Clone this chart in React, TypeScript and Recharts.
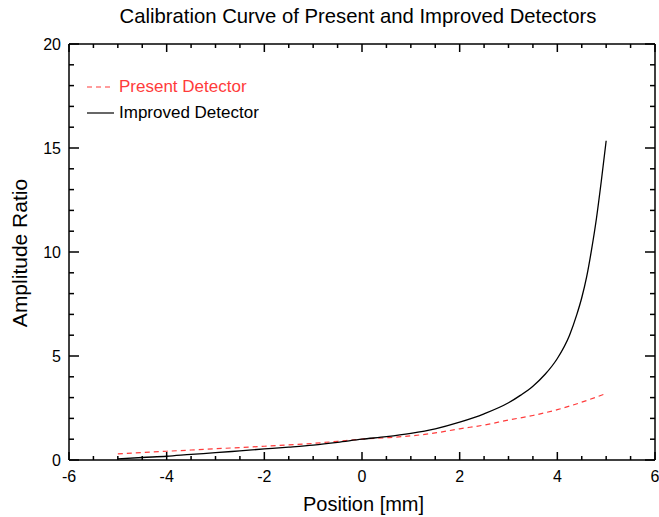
import React from "react";
import { LineChart, Line, XAxis, YAxis } from "recharts";

// Valeurs
const presentX = [-5, -4.5, -4, -3.5, -3, -2.5, -2, -1.5, -1, -0.5, 0, 0.5, 1, 1.5, 2, 2.5, 3, 3.5, 4, 4.5, 5];
const presentY = [0.29, 0.36, 0.42, 0.48, 0.54, 0.6, 0.66, 0.73, 0.8, 0.9, 1.0, 1.07, 1.16, 1.3, 1.5, 1.68, 1.92, 2.14, 2.42, 2.78, 3.2];

const improvedX = [-5, -4.5, -4, -3.5, -3, -2.5, -2, -1.5, -1, -0.5, 0, 0.5, 1, 1.5, 2, 2.5, 3, 3.25, 3.5, 3.75, 4, 4.25, 4.4, 4.5, 4.6, 4.7, 4.8, 4.9, 5];
const improvedY = [0.05, 0.12, 0.18, 0.27, 0.35, 0.44, 0.53, 0.62, 0.72, 0.85, 1.0, 1.12, 1.28, 1.5, 1.82, 2.22, 2.75, 3.12, 3.55, 4.12, 4.88, 6.0, 7.0, 7.8, 8.8, 10.1, 11.6, 13.4, 15.35];

const xTicks = [-6, -5.5, -5, -4.5, -4, -3.5, -3, -2.5, -2, -1.5, -1, -0.5, 0, 0.5, 1, 1.5, 2, 2.5, 3, 3.5, 4, 4.5, 5, 5.5, 6];
const yTicks = [0, 1, 2, 3, 4, 5, 6, 7, 8, 9, 10, 11, 12, 13, 14, 15, 16, 17, 18, 19, 20];

const presentData = presentX.map((x, i) => ({ x, y: presentY[i] }));
const improvedData = improvedX.map((x, i) => ({ x, y: improvedY[i] }));

const FONT = "'Liberation Sans', Arial, sans-serif";
const RED = "#ff3b3b";

// graduations tournées vers l'intérieur, grandes + petites
function XTick(props: any) {
  const { x, y, payload, side } = props;
  const v = payload.value;
  const major = Math.abs(v % 2) < 1e-9;
  const len = major ? 8 : 4;
  const dir = side === "top" ? 1 : -1;
  return (
    <g>
      <path d={`M${x},${y}V${y + dir * len}`} stroke="#000" strokeWidth={1.5} fill="none" />
      {side !== "top" && major && (
        <text x={x} y={y + 22} textAnchor="middle" fontSize={16} fill="#000" fontFamily={FONT}>{v}</text>
      )}
    </g>
  );
}

function YTick(props: any) {
  const { x, y, payload, side } = props;
  const v = payload.value;
  const major = v % 5 === 0;
  const len = major ? 10 : 5;
  const dir = side === "right" ? -1 : 1;
  return (
    <g>
      <path d={`M${x},${y}H${x + dir * len}`} stroke="#000" strokeWidth={1.5} fill="none" />
      {side !== "right" && major && (
        <text x={x - 8} y={y + 6} textAnchor="end" fontSize={16} fill="#000" fontFamily={FONT}>{v}</text>
      )}
    </g>
  );
}

function LegendBox() {
  const row = { display: "flex", alignItems: "center", height: 26, gap: 5 } as const;
  return (
    <div style={{ position: "absolute", left: 87, top: 74, fontFamily: FONT, fontSize: 17 }}>
      <div style={{ ...row, color: RED }}>
        <svg width={27} height={10}><line x1={0} x2={27} y1={5} y2={5} stroke={RED} strokeWidth={1.2} strokeDasharray="5 4" /></svg>
        Present Detector
      </div>
      <div style={{ ...row, color: "#000" }}>
        <svg width={27} height={10}><line x1={0} x2={27} y1={5} y2={5} stroke="#000" strokeWidth={1.2} /></svg>
        Improved Detector
      </div>
    </div>
  );
}

export default function App() {
  return (
    <div style={{ position: "absolute", left: 0, top: 0, width: 659, height: 517, background: "#fff", fontFamily: FONT }}>
      <LineChart width={659} height={517} margin={{ top: 43, right: 3, bottom: 27, left: 9 }}>
        <XAxis xAxisId="b" dataKey="x" type="number" domain={[-6, 6]} ticks={xTicks} interval={0}
          tickSize={0} tickMargin={0} tick={<XTick side="bottom" />} tickLine={false}
          axisLine={{ stroke: "#000", strokeWidth: 1.5 }} height={30} allowDataOverflow />
        <XAxis xAxisId="t" orientation="top" dataKey="x" type="number" domain={[-6, 6]} ticks={xTicks} interval={0}
          tickSize={0} tickMargin={0} tick={<XTick side="top" />} tickLine={false}
          axisLine={{ stroke: "#000", strokeWidth: 1.5 }} height={1} allowDataOverflow />
        <YAxis yAxisId="l" type="number" domain={[0, 20]} ticks={yTicks} interval={0}
          tickSize={0} tickMargin={0} tick={<YTick side="left" />} tickLine={false}
          axisLine={{ stroke: "#000", strokeWidth: 1.5 }} width={60} allowDataOverflow />
        <YAxis yAxisId="r" orientation="right" type="number" domain={[0, 20]} ticks={yTicks} interval={0}
          tickSize={0} tickMargin={0} tick={<YTick side="right" />} tickLine={false}
          axisLine={{ stroke: "#000", strokeWidth: 1.5 }} width={1} allowDataOverflow />
        <Line xAxisId="b" yAxisId="l" data={presentData} dataKey="y" type="monotone" stroke={RED}
          strokeWidth={1.2} strokeDasharray="5 4" dot={false} isAnimationActive={false} name="Present Detector" />
        <Line xAxisId="b" yAxisId="l" data={improvedData} dataKey="y" type="monotone" stroke="#000"
          strokeWidth={1.3} dot={false} isAnimationActive={false} name="Improved Detector" />
        {/* série invisible pour que les axes haut/droite (cadre) soient dessinés */}
        <Line xAxisId="t" yAxisId="r" data={improvedData} dataKey="y" stroke="none" dot={false}
          isAnimationActive={false} legendType="none" />
      </LineChart>
      <div style={{ position: "absolute", left: 0, width: 659, top: 5, textAlign: "center", fontSize: 20.3, paddingLeft: 57, boxSizing: "border-box" }}>
        Calibration Curve of Present and Improved Detectors
      </div>
      <div style={{ position: "absolute", left: 0, width: 659, top: 493, textAlign: "center", fontSize: 20, paddingLeft: 68, boxSizing: "border-box" }}>
        Position [mm]
      </div>
      <div style={{ position: "absolute", left: 20, top: 253, fontSize: 21, whiteSpace: "nowrap", transform: "translate(-50%, -50%) rotate(-90deg)" }}>
        Amplitude Ratio
      </div>
      <LegendBox />
    </div>
  );
}
